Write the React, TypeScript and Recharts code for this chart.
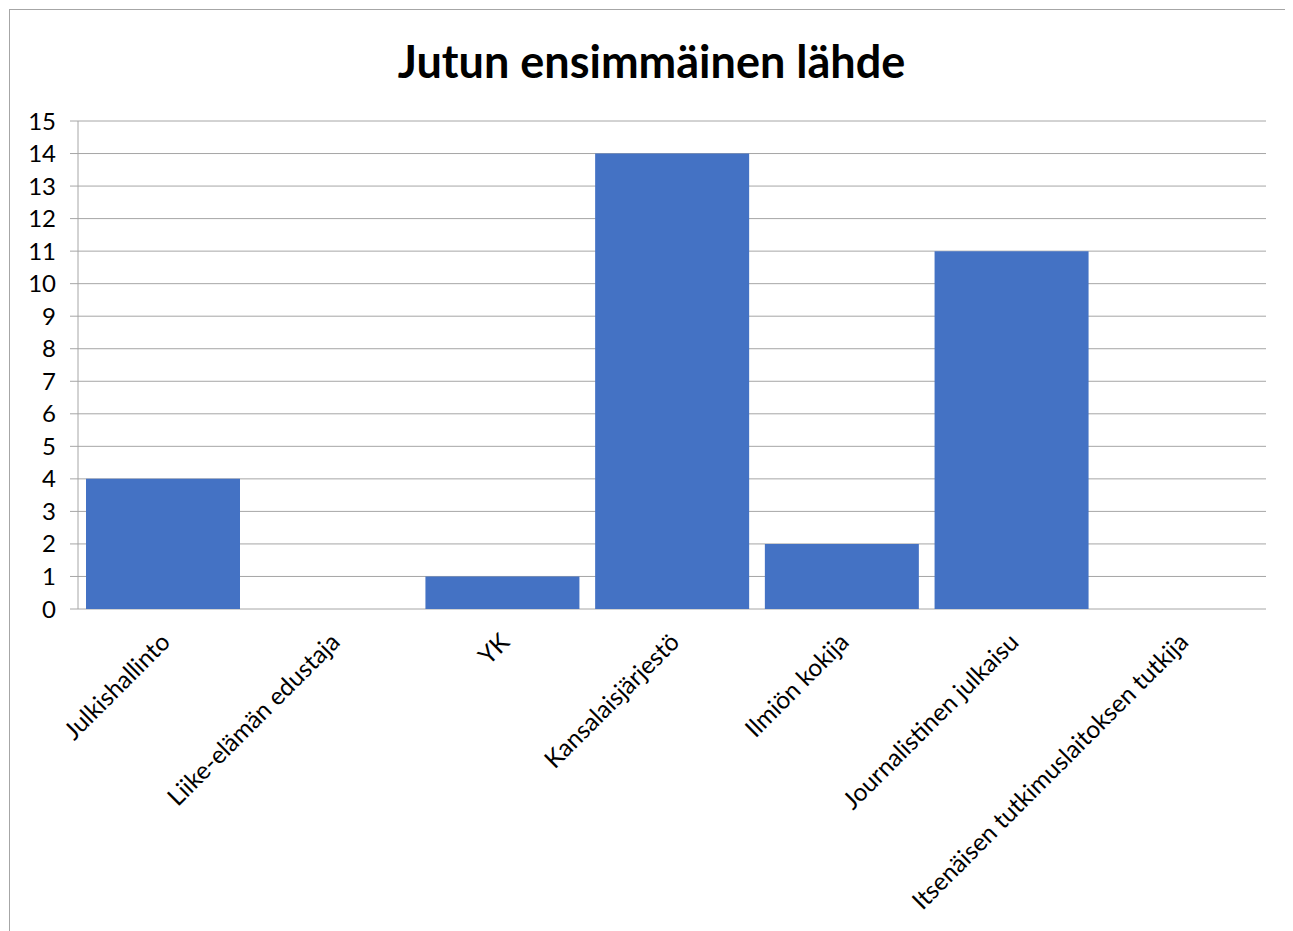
import { Bar, BarChart, CartesianGrid, XAxis, YAxis } from "recharts";

// Jutun ensimmäinen lähde – pylväskaavio, Excel-tyyliin.
const categories = [
  "Julkishallinto",
  "Liike-elämän edustaja",
  "YK",
  "Kansalaisjärjestö",
  "Ilmiön kokija",
  "Journalistinen julkaisu",
  "Itsenäisen tutkimuslaitoksen tutkija",
];
const counts = [4, 0, 1, 14, 2, 11, 0];
const yTicks = [0, 1, 2, 3, 4, 5, 6, 7, 8, 9, 10, 11, 12, 13, 14, 15];
const boundaryTicks = [0, 1, 2, 3, 4, 5, 6, 7];

const data = categories.map((name, i) => ({ name, count: counts[i] }));

const FONT = "Lato, Carlito, Calibri, sans-serif";
const GRID = "#a6a6a6";

function SlantTick(props: any) {
  const { x, y, payload } = props;
  return (
    <g transform={`translate(${x + 2},${y + 20})`}>
      <text
        transform="rotate(-45)"
        textAnchor="end"
        dominantBaseline="central"
        fontSize={24.5}
        fontFamily={FONT}
        fill="#000"
      >
        {payload.value}
      </text>
    </g>
  );
}

export default function App() {
  return (
    <div
      style={{
        position: "relative",
        width: 1300,
        height: 930,
        marginTop: 1,
        marginLeft: 1,
        borderTop: `1px solid ${GRID}`,
        borderLeft: `1px solid ${GRID}`,
        background: "#fff",
      }}
    >
      <div
        style={{
          position: "absolute",
          top: 24,
          left: 0,
          width: 1283,
          textAlign: "center",
          fontFamily: FONT,
          fontWeight: 700,
          fontSize: 45,
          color: "#000",
        }}
      >
        Jutun ensimmäinen lähde
      </div>
      <BarChart
        width={1283}
        height={921}
        data={data}
        margin={{ top: 111, right: 27, bottom: 0, left: 0 }}
        barCategoryGap={8}
      >
        <CartesianGrid horizontal vertical={false} stroke={GRID} />
        <XAxis
          xAxisId="edges"
          type="number"
          domain={[0, 7]}
          ticks={boundaryTicks}
          height={0}
          tick={false}
          tickSize={8}
          axisLine={{ stroke: GRID }}
          tickLine={{ stroke: GRID }}
          allowDataOverflow
        />
        <XAxis
          xAxisId="cat"
          dataKey="name"
          interval={0}
          height={322}
          axisLine={false}
          tickLine={false}
          tick={<SlantTick />}
        />
        <YAxis
          domain={[0, 15]}
          ticks={yTicks}
          interval={0}
          width={68}
          tickSize={8}
          tickMargin={14}
          axisLine={{ stroke: GRID }}
          tickLine={{ stroke: GRID }}
          tick={{ fontSize: 24, fontFamily: FONT, fill: "#000" }}
        />
        <Bar
          xAxisId="cat"
          dataKey="count"
          fill="#4472c4"
          isAnimationActive={false}
        />
      </BarChart>
    </div>
  );
}
